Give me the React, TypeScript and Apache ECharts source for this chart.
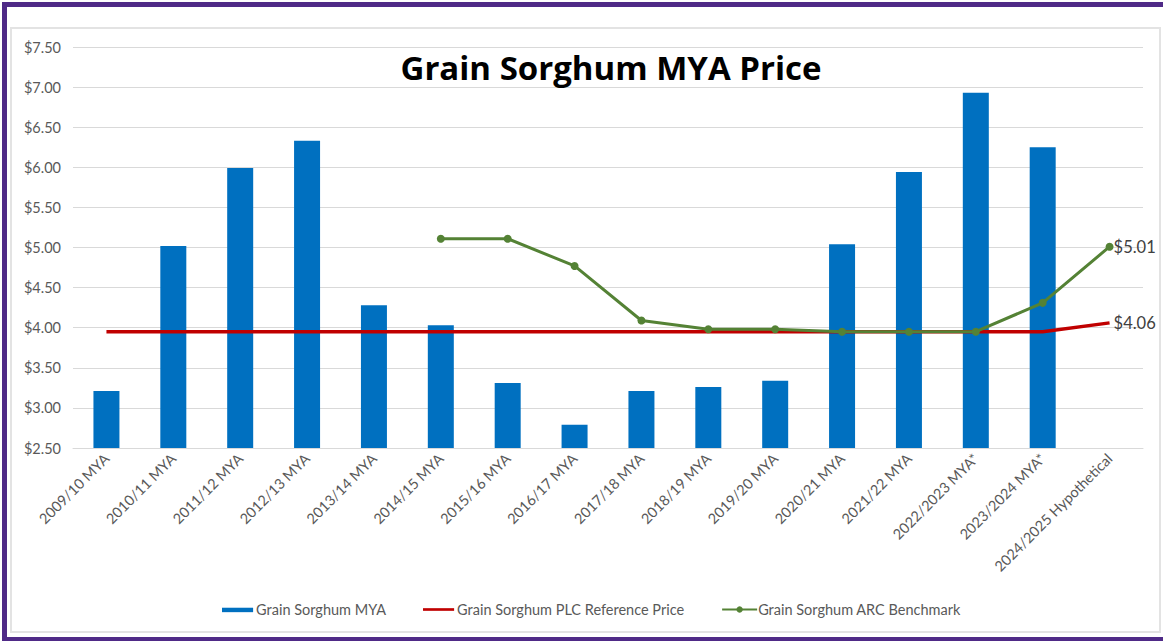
import React, { useEffect, useRef } from "react";
import * as echarts from "echarts";

const categories = [
  "2009/10 MYA", "2010/11 MYA", "2011/12 MYA", "2012/13 MYA", "2013/14 MYA",
  "2014/15 MYA", "2015/16 MYA", "2016/17 MYA", "2017/18 MYA", "2018/19 MYA",
  "2019/20 MYA", "2020/21 MYA", "2021/22 MYA", "2022/2023 MYA*", "2023/2024 MYA*",
  "2024/2025 Hypothetical",
];
const myaPrices: (number | null)[] = [
  3.21, 5.02, 5.99, 6.33, 4.28, 4.03, 3.31, 2.79, 3.21, 3.26, 3.34, 5.04, 5.94, 6.93, 6.25, null,
];
const plcReference: number[] = [
  3.95, 3.95, 3.95, 3.95, 3.95, 3.95, 3.95, 3.95, 3.95, 3.95, 3.95, 3.95, 3.95, 3.95, 3.95, 4.06,
];
const arcBenchmark: (number | null)[] = [
  null, null, null, null, null, 5.11, 5.11, 4.77, 4.09, 3.98, 3.98, 3.95, 3.95, 3.95, 4.31, 5.01,
];
const yTicks = { min: 2.5, max: 7.5, interval: 0.5 };

const FONT = "Lato, 'Open Sans', sans-serif";
const money = (v: number) => "$" + Number(v).toFixed(2);

const endLabel = {
  show: true,
  distance: 4,
  formatter: (p: any) => money(Array.isArray(p.value) ? p.value[1] : p.value),
  color: "#404040",
  fontSize: 16.5,
  fontFamily: FONT,
};

export default function App() {
  const ref = useRef<HTMLDivElement>(null);
  useEffect(() => {
    if (!ref.current) return;
    const chart = echarts.init(ref.current, undefined, { renderer: "svg" });
    chart.setOption({
      animation: false,
      backgroundColor: "transparent",
      title: {
        text: "Grain Sorghum MYA Price",
        left: 606,
        textAlign: "center",
        top: 46,
        textStyle: { fontSize: 33, fontWeight: "bold", color: "#000", fontFamily: "'Open Sans', Lato, sans-serif" },
      },
      grid: { left: 73, right: 20, top: 47, bottom: 193, containLabel: false },
      legend: {
        top: 597,
        left: 217,
        itemGap: 37,
        itemWidth: 35,
        itemHeight: 8,
        textStyle: { color: "#595959", fontSize: 14.5, fontFamily: FONT, padding: [0, 0, 0, -4] },
        data: [
          { name: "Grain Sorghum MYA", icon: "path://M0,0L0,0M0,9L0,9M0,2.5h35v5h-35z" },
          { name: "Grain Sorghum PLC Reference Price", icon: "path://M0,0L0,0M0,9L0,9M0,3h35v3h-35z" },
          { name: "Grain Sorghum ARC Benchmark" },
        ],
      },
      xAxis: {
        type: "category",
        data: categories,
        axisLine: { show: true, lineStyle: { color: "#d9d9d9" } },
        axisTick: { show: false },
        axisLabel: {
          rotate: 45,
          interval: 0,
          color: "#595959",
          fontSize: 14.5,
          fontFamily: FONT,
          margin: 8,
        },
      },
      yAxis: {
        type: "value",
        min: yTicks.min,
        max: yTicks.max,
        interval: yTicks.interval,
        axisLine: { show: false },
        axisTick: { show: false },
        splitLine: { lineStyle: { color: "#d9d9d9", width: 1 } },
        axisLabel: {
          color: "#595959",
          fontSize: 14.5,
          fontFamily: FONT,
          margin: 12,
          formatter: (v: number) => money(v),
        },
      },
      series: [
        {
          name: "Grain Sorghum MYA",
          type: "bar",
          data: myaPrices,
          barWidth: 26,
          itemStyle: { color: "#0070C0" },
        },
        {
          name: "Grain Sorghum PLC Reference Price",
          type: "line",
          data: plcReference,
          symbol: "none",
          lineStyle: { color: "#C00000", width: 3.5 },
          itemStyle: { color: "#C00000" },
          endLabel,
        },
        {
          name: "Grain Sorghum ARC Benchmark",
          type: "line",
          data: arcBenchmark,
          symbol: "circle",
          symbolSize: 8,
          lineStyle: { color: "#548235", width: 3 },
          itemStyle: { color: "#548235" },
          endLabel,
          z: 3,
        },
      ],
    });
    return () => chart.dispose();
  }, []);

  return (
    <div style={{ position: "fixed", left: 0, top: 0, width: 1163, height: 641, background: "#fff", overflow: "hidden" }}>
      <div style={{ position: "absolute", left: 2, top: 2, width: 1170, height: 639, boxSizing: "border-box", border: "5px solid #4F2A87", borderBottomWidth: 4 }} />
      <div style={{ position: "absolute", left: 10, top: 27, width: 1151, height: 606, boxSizing: "border-box", border: "2px solid #e3e3e3" }} />
      <div ref={ref} style={{ position: "absolute", left: 0, top: 0, width: 1163, height: 641 }} />
    </div>
  );
}
